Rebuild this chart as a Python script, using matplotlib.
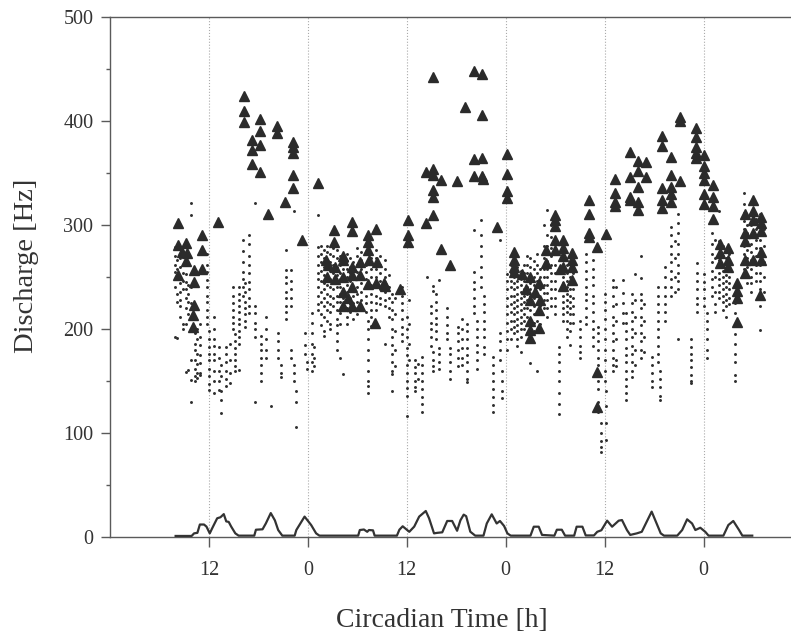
import matplotlib.pyplot as plt
from matplotlib.ticker import MultipleLocator

plt.rcParams["font.family"] = ["Liberation Serif", "DejaVu Serif"]

# -- Datos (horas desde el inicio del registro, descarga en Hz) ---------------

tick_hours = [12, 24, 36, 48, 60, 72]
tick_labels = ["12", "0", "12", "0", "12", "0"]

# triangulos: descargas altas
tri_hours = [
    8.2, 8.2, 9.2, 8.7, 9.4, 9.2, 8.2, 10.2, 11.1, 11.1, 11.1, 10.2, 10.2, 10.1, 10.1,
    13.1,
    16.2, 16.2, 16.2, 18.2, 18.2, 17.2, 18.2, 17.2, 17.2, 18.2, 20.2, 20.2, 22.2, 22.2,
    22.2, 22.2, 22.2, 21.2, 19.2, 23.3, 25.2,
    27.2, 29.3, 29.3, 27.2, 28.3, 31.3, 32.3, 31.3, 31.3, 26.4, 26.2, 28.3, 27.3, 29.3,
    30.3, 31.4, 32.4, 28.3, 29.3, 30.3, 31.3, 32.3, 33.2, 28.3, 29.3, 28.3, 29.3, 30.3,
    28.9, 26.3, 27.3, 32.2, 35.2, 33.4,
    36.2, 36.2, 36.2,
    39.2, 43.1, 38.3, 39.2, 39.2, 40.2, 39.2, 39.2, 38.3, 39.2, 40.2, 41.2, 42.1,
    44.1, 45.1, 45.1, 44.1, 45.1, 44.1, 45.1, 45.2, 48.1, 48.1, 48.1, 48.1, 47.0,
    49.0, 49.0, 49.0, 49.0, 50.0, 51.0, 52.0, 50.4, 51.5, 51.0, 52.2, 52.0, 51.0, 51.0,
    51.0, 52.0,
    54.0, 54.0, 54.0, 54.0, 55.0, 52.9, 54.0, 55.0, 56.0, 56.0, 55.0, 56.0, 52.9, 55.0,
    56.0, 55.0, 54.6,
    58.1, 58.1, 58.1, 58.1, 59.1, 60.2, 59.1, 59.1,
    61.2, 61.2, 61.2, 61.2,
    63.1, 64.1, 65.0, 64.1, 63.1, 65.0, 64.1, 63.1, 63.1, 64.1, 64.1,
    67.0, 67.0, 68.0, 68.0, 67.0, 68.0, 69.1, 68.0, 67.0, 68.0, 67.0, 69.1, 69.1,
    71.1, 71.1, 71.1, 71.1, 71.1, 72.0, 72.0, 72.0, 72.0, 72.0, 72.0, 73.1, 73.1, 73.1,
    73.1,
    74.0, 75.0, 74.0, 75.0, 75.0, 74.0, 76.0, 76.0, 76.0, 76.0, 78.0, 77.0, 78.0, 78.0,
    79.0, 79.0, 79.0, 77.0, 77.0, 78.0, 79.0, 79.0, 78.0, 77.0, 77.0, 78.8,
]
tri_hz = [
    302, 281, 283, 274, 273, 265, 252, 257, 290, 276, 258, 245, 223, 213, 202,
    303,
    424, 410, 399, 402, 390, 382, 377, 372, 359, 351, 395, 388, 380, 375,
    369, 348, 336, 322, 311, 286, 340,
    295, 303, 294, 284, 270, 290, 296, 284, 276, 262, 266, 266, 260, 260,
    264, 266, 264, 250, 252, 252, 243, 244, 244, 236, 240, 222, 222, 222,
    230, 250, 248, 206, 238, 241,
    305, 290, 284,
    442, 413, 351, 354, 348, 343, 334, 327, 302, 310, 277, 262, 342,
    448, 445, 406, 363, 364, 347, 347, 344, 368, 349, 333, 326, 298,
    274, 266, 260, 255, 253, 250, 244, 238, 236, 228, 228, 218, 208, 199,
    191, 201,
    310, 305, 299, 286, 286, 276, 276, 278, 273, 266, 260, 260, 263, 270,
    247, 241, 258,
    324, 311, 292, 288, 279, 291, 159, 125,
    344, 331, 322, 318,
    370, 362, 361, 352, 346, 346, 337, 327, 324, 322, 314,
    386, 376, 365, 348, 336, 337, 342, 330, 324, 322, 316, 404, 400,
    393, 385, 375, 369, 364, 367, 357, 350, 343, 330, 320, 338, 327, 318,
    306,
    282, 278, 273, 266, 260, 263, 244, 237, 230, 207, 324, 311, 313, 305,
    308, 302, 294, 292, 285, 292, 274, 266, 266, 266, 254, 233,
]

# puntos: cada entrada es (hora, descargas registradas en esa hora)
dot_columns = [
    (7.9, [279, 270, 262, 255, 248, 240, 192]),
    (8.1, [266, 258, 250, 234, 226, 191]),
    (8.5, [268, 260, 250, 244, 236, 228, 222, 212]),
    (8.8, [254, 246, 238, 205, 200]),
    (9.2, [253, 245, 238, 230, 220, 205, 159]),
    (9.5, [242, 234, 226, 214, 161]),
    (9.8, [321, 310, 240, 225, 212, 200, 170, 151, 130]),
    (10.3, [196, 186, 180, 170, 162, 155, 150]),
    (10.6, [200, 190, 176, 166, 158, 153]),
    (10.9, [205, 192, 185, 175, 167, 158, 156]),
    (11.8, [272, 262, 255, 247, 240, 232, 226, 218, 212, 205]),
    (12.0, [198, 190, 183, 176, 170, 162, 155, 147, 141]),
    (12.6, [212, 200, 190, 184, 176, 170, 160, 150, 138]),
    (13.2, [183, 172, 160, 150, 141]),
    (13.5, [165, 155, 140, 132, 119]),
    (14.1, [183, 176, 168, 160, 152, 145]),
    (14.5, [186, 170, 158, 148]),
    (14.9, [240, 232, 225, 218, 212, 206, 200]),
    (15.2, [195, 188, 182, 176, 170, 164, 160]),
    (15.6, [240, 234, 228, 222, 216, 210, 205, 198, 192, 186, 161]),
    (16.1, [286, 275, 264, 255, 248, 240, 232]),
    (16.4, [244, 236, 226, 220, 214, 208, 202]),
    (16.9, [290, 282, 270, 262, 254, 245, 238, 230, 222, 215]),
    (17.6, [321, 222, 215, 206, 200, 192, 130]),
    (18.3, [193, 186, 180, 172, 165, 158, 150]),
    (18.9, [212, 200, 190, 180, 172]),
    (19.5, [126]),
    (20.4, [196, 188, 180, 172]),
    (20.7, [165, 158, 154]),
    (21.3, [276, 257, 250, 244, 236, 230, 222, 216, 210]),
    (21.9, [257, 246, 238, 230, 222, 180, 172]),
    (22.3, [313, 165, 158, 150]),
    (22.6, [140, 130, 106]),
    (23.6, [196, 185, 176]),
    (23.9, [168, 162]),
    (24.5, [215, 206, 196, 186, 176, 168, 160]),
    (24.8, [183, 172, 164]),
    (25.2, [310, 279, 270, 262, 254, 248, 240, 232, 224, 218]),
    (25.6, [280, 272, 264, 256, 246, 236, 226, 214, 204]),
    (25.9, [276, 268, 260, 252, 244, 238, 230, 222, 212, 198, 193]),
    (26.3, [280, 274, 266, 258, 250, 242, 234, 226, 218, 208]),
    (26.7, [272, 264, 256, 248, 240, 232, 224, 216, 205, 200]),
    (27.1, [278, 270, 262, 254, 246, 238, 230, 222]),
    (27.5, [276, 268, 260, 252, 246, 240, 232, 226, 218, 210, 204, 196, 188, 180]),
    (27.9, [270, 262, 254, 248, 240, 234, 226, 215, 205, 172]),
    (28.3, [266, 258, 246, 238, 230, 220, 157]),
    (28.7, [272, 265, 258, 250, 242, 236, 228, 220, 212, 205]),
    (29.1, [268, 260, 254, 246, 238, 230, 224, 216]),
    (29.5, [264, 256, 248, 240, 232, 225, 218, 210]),
    (30.0, [278, 270, 262, 255, 248, 240, 234, 226, 220, 214]),
    (30.5, [274, 266, 258, 250, 244, 236, 228, 218]),
    (31.0, [272, 262, 255, 248, 240, 232, 225, 216]),
    (31.3, [208, 200, 190, 180, 170, 160, 150, 145, 138]),
    (31.7, [268, 258, 250, 242, 234, 226, 218, 212, 203]),
    (32.3, [276, 268, 258, 250, 240, 232, 225, 218]),
    (32.8, [270, 262, 254, 246, 238, 230, 224]),
    (33.3, [266, 258, 250, 244, 236, 228, 222, 186]),
    (33.8, [252, 240, 230, 220, 212]),
    (34.2, [234, 226, 218, 210, 200, 192, 185, 176, 168, 160, 157, 140]),
    (34.6, [230, 214, 198, 180, 164]),
    (35.4, [240, 232, 225, 218, 210, 202, 195, 188]),
    (36.0, [212, 200, 192, 182, 175, 165, 158, 150, 143, 136, 116]),
    (36.3, [228, 205, 186, 170]),
    (37.0, [170, 163, 158, 150, 144, 140]),
    (37.4, [166, 152]),
    (37.8, [173, 165, 158, 150, 142, 135, 128, 120]),
    (38.5, [250]),
    (38.9, [222, 215, 206, 200, 192, 184]),
    (39.2, [241, 237, 178, 170, 164, 160]),
    (39.6, [234, 226, 218, 211, 205, 198, 190]),
    (39.9, [247, 182, 176, 168, 162]),
    (40.9, [220, 212, 204, 196, 190]),
    (41.2, [182, 176, 168, 160, 152]),
    (42.2, [202, 196, 188, 180, 172, 164]),
    (42.7, [210, 200, 190, 182, 172, 165]),
    (43.3, [205, 198, 190, 182, 175, 168, 160, 152, 149]),
    (44.1, [295, 255, 245, 238, 230, 222, 215]),
    (44.5, [208, 200, 192, 185, 178, 170, 162]),
    (45.0, [305, 290, 280, 270, 260, 250, 240]),
    (45.4, [232, 224, 216, 208, 200, 192, 183, 176]),
    (46.4, [173, 165, 158, 150, 142, 135, 127, 120]),
    (47.3, [286, 196, 188, 180, 170]),
    (47.6, [160, 150, 140, 134]),
    (48.2, [253, 246, 238, 230, 222, 214, 206, 198, 190, 180]),
    (48.6, [262, 254, 246, 240, 232, 224, 216, 208, 200, 190]),
    (49.0, [266, 258, 250, 244, 238, 232, 226, 220, 214, 208, 202, 196]),
    (49.4, [260, 252, 246, 240, 234, 228, 222, 216, 210, 204, 198, 190, 184]),
    (49.8, [256, 248, 242, 236, 230, 224, 218, 212, 206, 200, 192, 178]),
    (50.2, [262, 254, 246, 238, 232, 226, 220, 214, 208, 200]),
    (50.6, [270, 262, 254, 246, 240, 234, 228, 220, 212, 204, 196]),
    (51.0, [268, 260, 252, 244, 238, 232, 226, 218, 210, 167]),
    (51.4, [265, 258, 250, 242, 236, 230, 222, 214, 206, 198]),
    (51.8, [272, 262, 254, 246, 240, 232, 224, 216, 208, 160]),
    (52.2, [258, 250, 244, 238, 230, 222, 214, 205]),
    (52.6, [300, 280, 268, 258, 250, 242, 235, 228, 220]),
    (53.0, [314, 290, 280, 272, 265, 258, 250, 242, 235, 228, 220, 212]),
    (53.5, [300, 288, 278, 270, 262, 254, 246, 238, 230, 222]),
    (54.0, [296, 282, 272, 262, 254, 246, 238, 230, 222, 214]),
    (54.5, [183, 176, 168, 160, 150, 138, 128, 118]),
    (55.0, [266, 258, 250, 244, 238, 232, 226, 220, 214, 208]),
    (55.4, [262, 254, 246, 240, 234, 228, 222, 216, 208, 200, 192]),
    (55.8, [258, 250, 244, 238, 232, 226, 220, 214, 206, 198, 185]),
    (56.2, [254, 246, 238, 230, 222, 214, 206]),
    (57.0, [208, 200, 192, 184, 178, 172]),
    (57.7, [272, 264, 256, 248, 240, 234, 228, 220, 212, 205]),
    (58.6, [266, 258, 250, 242, 232, 225, 216, 208, 200, 192, 184]),
    (59.2, [202, 196, 188, 180, 172, 165, 158, 150, 142, 130, 120]),
    (59.5, [110, 100, 92, 87, 82]),
    (60.0, [234, 226, 218, 210, 200, 190, 180, 170, 160, 150]),
    (60.2, [140, 126, 110, 93]),
    (61.0, [247, 240, 232, 222, 212, 204, 196, 188, 180, 172, 165, 160]),
    (61.4, [240, 224, 208, 190, 170, 164]),
    (62.2, [247, 235, 225, 215, 206]),
    (62.6, [215, 206, 198, 190, 182, 175, 168, 160, 152, 145, 138, 132]),
    (63.3, [234, 225, 216, 208, 200, 192, 184, 176, 168, 160, 154]),
    (63.7, [253, 228, 212, 196, 180, 165]),
    (64.4, [270, 249, 234, 228, 220, 212, 204, 196, 188, 180, 172]),
    (64.8, [224, 208, 192, 178]),
    (65.7, [173, 165, 158, 150, 144]),
    (66.5, [240, 232, 224, 216, 208, 200, 192, 184, 176, 168]),
    (66.7, [160, 152, 144, 136, 132]),
    (67.3, [260, 250, 240, 232, 224, 216, 208]),
    (68.0, [298, 290, 280, 272, 264, 256, 248, 240, 232]),
    (68.5, [285, 268, 250, 236]),
    (68.9, [311, 302, 292, 282, 272, 262, 254, 246, 238, 190]),
    (70.5, [190, 183, 176, 170, 163, 156, 150, 148]),
    (71.2, [263, 254, 246, 238, 230, 224, 216]),
    (72.0, [253, 245, 238, 230, 222]),
    (72.4, [215, 208, 200, 190, 180, 172]),
    (73.0, [292, 282, 272, 264, 256, 248, 240, 232]),
    (73.4, [286, 268, 250, 236, 224, 216]),
    (73.9, [313, 285, 278, 272, 266, 260, 254, 248, 242, 236, 230]),
    (74.3, [280, 270, 262, 256, 250, 244, 238, 232, 226, 218]),
    (74.7, [276, 268, 260, 252, 246, 240, 234, 228, 222, 212]),
    (75.1, [272, 264, 256, 250, 244, 238, 230, 224]),
    (75.8, [234, 225, 215, 205, 195, 186, 176, 168, 156, 150]),
    (76.9, [331, 320, 312, 304, 296, 288, 280, 272, 265, 258]),
    (77.3, [300, 292, 284, 276, 268, 260, 250, 244]),
    (77.8, [310, 300, 290, 282, 274, 266, 258, 250, 244, 236]),
    (78.4, [306, 296, 286, 278, 270, 262, 254, 246]),
    (78.9, [311, 302, 294, 286, 278, 270, 262, 254, 246, 238, 230, 222, 199]),
    (79.3, [296, 280, 264, 250, 236]),
]

# curva inferior (actividad)
curve_hours = [
    7.96, 9.9, 10.2, 10.6, 10.9, 11.4, 11.7, 12.1, 12.4, 13.0, 13.4, 13.8, 14.1, 14.4,
    14.7, 15.2, 15.6, 17.5, 17.7, 18.5, 18.9, 19.5, 20.0, 20.4, 20.9, 22.4, 22.6, 23.6,
    24.4, 25.0, 25.4, 30.1, 30.3, 30.8, 31.2, 31.4, 31.9, 32.1, 34.8, 35.1, 35.5, 36.3,
    36.9, 37.5, 38.3, 38.7, 39.3, 39.7, 40.3, 40.9, 41.5, 42.1, 42.5, 42.9, 43.2, 43.7,
    44.3, 45.3, 45.7, 46.3, 46.9, 47.3, 47.8, 48.2, 48.6, 51.0, 51.4, 52.0, 52.4, 53.9,
    54.2, 54.8, 55.2, 56.3, 56.6, 57.3, 57.7, 58.7, 59.1, 59.6, 60.3, 60.9, 61.7, 62.1,
    62.7, 63.1, 63.9, 64.5, 64.9, 65.7, 66.3, 66.8, 67.2, 68.8, 69.4, 70.0, 70.6, 71.0,
    71.6, 72.2, 72.6, 74.4, 75.0, 75.6, 76.3, 76.7, 77.9,
]
curve_hz = [
    1, 1, 3.5, 4, 12, 12, 10, 3.5, 8.5, 18, 19, 22, 15, 14.5,
    10, 3.5, 1.3, 1.3, 7, 7.4, 13, 23, 16, 6.7, 1.3, 1.3, 6.7, 19.6,
    11.5, 3.5, 1.3, 1.3, 6.7, 7.2, 5, 6.7, 6.4, 1.3, 1.3, 7, 10.3, 5,
    10, 19.6, 25, 18, 3.5, 4, 4.5, 15.4, 15.4, 6, 16, 21.5, 20, 5.1,
    1.3, 1.3, 13, 21.8, 13, 15.4, 10.6, 3.5, 1.3, 1.3, 9.9, 9.9, 2, 1.3,
    7, 7, 1.3, 1.3, 9.9, 9.9, 1.5, 1.5, 5, 6.5, 15.7, 9.9, 15.7, 16.3,
    6.7, 2, 3.5, 5, 11.5, 24.4, 13, 3.5, 1.3, 1.3, 6.7, 17, 13, 6.7,
    8.9, 5, 1.3, 1.3, 11.5, 15.4, 6.7, 1.3, 1.3,
]

dot_hours = [h for h, vals in dot_columns for _ in vals]
dot_hz = [v for _, vals in dot_columns for v in vals]


# -- Figura --------------------------------------------------------------------

fig = plt.figure(figsize=(7.91, 6.40), dpi=100)
ax = fig.add_axes([110 / 791, 1 - 537 / 640, 681 / 791, 520 / 640])

for h in tick_hours:
    ax.axvline(h, color="#aaaaaa", linestyle=":", linewidth=0.8, zorder=0)

ax.scatter(dot_hours, dot_hz, s=4.5, color="#2e2e2e", linewidths=0, zorder=2)
ax.plot(tri_hours, tri_hz, linestyle="none", marker="^", markersize=6.5,
        color="#2b2b2b", zorder=3)
ax.plot(curve_hours, curve_hz, color="#333333", linewidth=1.6, zorder=3)

ax.set_xlim(0, 82.6)
ax.set_ylim(0, 500)
ax.set_xticks(tick_hours)
ax.set_xticklabels(tick_labels)
ax.yaxis.set_major_locator(MultipleLocator(100))
ax.yaxis.set_minor_locator(MultipleLocator(50))

for side in ("left", "bottom", "top"):
    ax.spines[side].set_color("#5a5a5a")
    ax.spines[side].set_linewidth(1.0)
ax.spines["right"].set_visible(False)

ax.tick_params(axis="x", direction="out", length=7, width=1.0, color="#5a5a5a",
               pad=10, labelsize=14.5, labelcolor="#333333")
ax.tick_params(axis="y", which="major", direction="out", length=6.5, width=1.0,
               color="#5a5a5a", pad=5.5, labelsize=14.5, labelcolor="#333333")
ax.tick_params(axis="y", which="minor", direction="out", length=3, width=1.0,
               color="#5a5a5a")

ax.set_xlabel("Circadian Time [h]", fontsize=20, color="#333333")
ax.set_ylabel("Discharge [Hz]", fontsize=20.5, color="#333333")
ax.xaxis.set_label_coords(0.4875, -0.1365)
ax.yaxis.set_label_coords(-0.104, 0.521)

fig.savefig("out.png", dpi=100)
